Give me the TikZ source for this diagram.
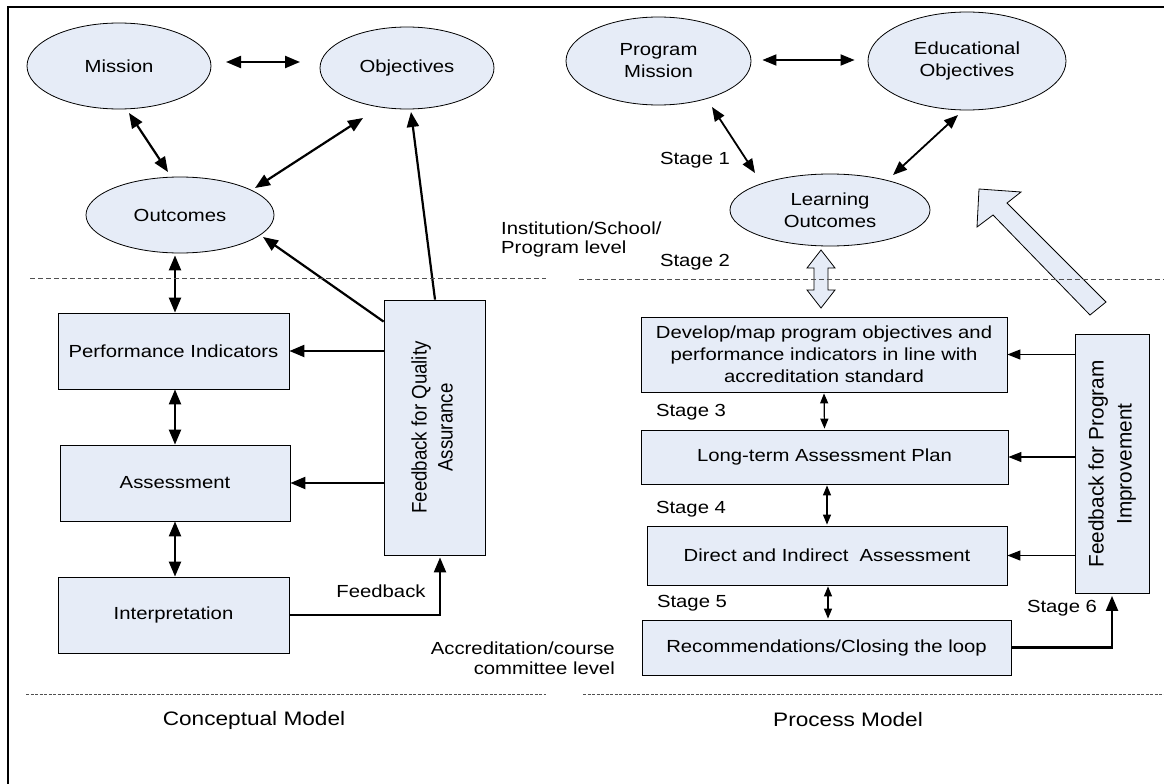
\documentclass[tikz,border=0pt]{standalone}
\usepackage{graphicx}
\usepackage{fontspec}
\setmainfont{Liberation Sans}[FakeStretch=1.16]
\newfontfamily\rotfontA{Liberation Sans}[FakeStretch=0.89]
\newfontfamily\rotfontB{Liberation Sans}[FakeStretch=0.99]
\usetikzlibrary{shapes.geometric,arrows.meta,calc}
\definecolor{boxfill}{RGB}{230,236,247}
\definecolor{dashcol}{RGB}{80,80,80}
\newcommand\nfont{\fontsize{17.5}{22}\selectfont}
\newcommand\tfont{\fontsize{19.5}{23}\selectfont}
\begin{document}
\begin{tikzpicture}[x=1pt,y=-1pt,
  ell/.style={ellipse, draw, line width=0.8pt, fill=boxfill, inner sep=0pt, align=center, font=\nfont},
  box/.style={rectangle, draw, line width=0.8pt, fill=boxfill, inner sep=0pt, align=center, font=\nfont},
  lbl/.style={inner sep=0pt, font=\nfont},
  bigdbl/.style={line width=2.2pt, {Triangle[length=15pt,width=12pt]}-{Triangle[length=15pt,width=12pt]}},
  bigone/.style={line width=2.2pt, -{Triangle[length=15pt,width=12pt]}},
  meddbl/.style={line width=1.8pt, {Triangle[length=14pt,width=11pt]}-{Triangle[length=14pt,width=11pt]}},
  thinone/.style={line width=1.2pt, -{Triangle[length=13pt,width=10pt]}},
  thindbl/.style={line width=1.2pt, {Triangle[length=10pt,width=8pt]}-{Triangle[length=10pt,width=8pt]}},
  dline/.style={dashcol, line width=0.8pt, dash pattern=on 5pt off 3pt},
  dlinefine/.style={dashcol, line width=0.7pt, dash pattern=on 3pt off 1.5pt},
  hollow/.style={draw, line width=0.8pt, fill=boxfill, line join=miter}
]
\useasboundingbox (0,0) rectangle (1164,784);
% frame
\draw[line width=2pt] (8,784) -- (8,7) -- (1164,7);

% ---------- Conceptual model ----------
\node[ell, minimum width=184pt, minimum height=86pt] (mis) at (119,66) {Mission};
\node[ell, minimum width=174pt, minimum height=82pt] (obj) at (407,68) {Objectives};
\node[ell, minimum width=188pt, minimum height=76pt] (outc) at (180,215) {Outcomes};
\node[box, minimum width=231pt, minimum height=76pt] (pi) at (173.5,351) {Performance Indicators};
\node[box, minimum width=230pt, minimum height=76pt] (asm) at (175,483) {Assessment};
\node[box, minimum width=231pt, minimum height=76pt] (intp) at (173.5,615) {Interpretation};
\node[box, minimum width=101pt, minimum height=255pt] (fqa) at (434.5,427.5)
  {\rotatebox{90}{\rotfontA\fontsize{21}{26}\selectfont\begin{tabular}{@{}c@{}}Feedback for Quality\\Assurance\end{tabular}}};

\draw[bigdbl] ($(mis)+(107,-4)$) -- ($(obj)+(-107,-6)$);
\draw[bigdbl] ($(mis)+(10,47)$) -- ($(outc)+(-12,-43)$);
\draw[bigdbl] ($(obj)+(-44,50)$) -- ($(outc)+(75,-27)$);
\draw[bigdbl] ($(outc.south)+(-5,2)$) -- ($(pi.north)+(1.5,0)$);
\draw[bigdbl] ($(pi.south)+(1.5,0)$) -- (asm.north);
\draw[bigdbl] (asm.south) -- ($(intp.north)+(1.5,0)$);
\draw[bigone] (fqa.west |- pi.east) -- (pi.east);
\draw[bigone] (fqa.west |- asm.east) -- (asm.east);
\draw[bigone] (intp.east) -| ($(fqa.south)+(5.5,2)$);
\draw[bigone] ($(fqa.north west)+(0,22)$) -- ($(outc)+(83,22)$);
\draw[bigone] ($(fqa.north)+(0.5,0)$) -- ($(obj)+(4,44)$);
\node[lbl] (fblbl) at (381,591) {Feedback};

\node[lbl, anchor=west, align=left, font=\fontsize{17.5}{19}\selectfont] (inst) at (501,239.5) {Institution/School/\\Program level};
\node[lbl, anchor=east, align=right, font=\fontsize{17.5}{20}\selectfont] (accr) at (615,658) {Accreditation/course\\committee level};

% ---------- Process model ----------
\node[ell, minimum width=185pt, minimum height=88pt] (pm) at (658.5,61) {Program\\Mission};
\node[ell, minimum width=198pt, minimum height=98pt] (eo) at (967,61) {Educational\\Objectives};
\node[ell, minimum width=200pt, minimum height=72pt] (lo) at (830,210) {Learning\\Outcomes};
\node[box, minimum width=366pt, minimum height=75pt] (dev) at (824,354.5) {Develop/map program objectives and\\performance indicators in line with\\accreditation standard};
\node[box, minimum width=367pt, minimum height=54pt] (ltap) at (824.5,457) {Long-term Assessment Plan};
\node[box, minimum width=360pt, minimum height=59pt] (dir) at (827,555.5) {Direct and Indirect\ \ Assessment};
\node[box, minimum width=369pt, minimum height=55pt] (rec) at (826.5,647.5) {Recommendations/Closing the loop};
\node[box, minimum width=74pt, minimum height=259pt] (fpi) at (1112,464)
  {\rotatebox{90}{\rotfontB\fontsize{21}{28}\selectfont\begin{tabular}{@{}c@{}}Feedback for Program\\Improvement\end{tabular}}};

\draw[meddbl] ($(pm.east)+(11,-1)$) -- ($(eo.west)+(-13,-1)$);
\draw[meddbl] ($(pm)+(53.5,46)$) -- ($(lo)+(-75,-37)$);
\draw[meddbl] ($(eo)+(-9,54)$) -- ($(lo)+(63,-35)$);
\draw[thindbl] ($(dev.south)+(0,1)$) -- ($(ltap.north)+(0,-1)$);
\draw[thindbl] ($(ltap.south)+(2.5,1)$) -- ($(dir.north)+(0,-1)$);
\draw[thindbl] ($(dir.south)+(1,1)$) -- ($(rec.north)+(1.5,-1)$);
\draw[thinone] (fpi.west |- dev.east) -- (dev.east);
\draw[thinone] (fpi.west |- ltap.east) -- (ltap.east);
\draw[thinone] (fpi.west |- dir.east) -- (dir.east);
\draw[bigone] (rec.east) -| ($(fpi.south)+(0,2)$);

% hollow double arrow (Stage 2)
\draw[hollow] (821,250) -- (835,268) -- (828,268) -- (828,290) -- (835,290) -- (821,308)
  -- (807,290) -- (814,290) -- (814,268) -- (807,268) -- cycle;
% big hollow arrow
\draw[hollow] (979,189) -- (1021,192) -- (1007,203) -- (1106,302) -- (1090,315) -- (993,215) -- (977,227) -- cycle;

\node[lbl] (s1) at (695,160) {Stage 1};
\node[lbl] (s2) at (695,262) {Stage 2};
\node[lbl] (s3) at (691,412) {Stage 3};
\node[lbl] (s4) at (691,509) {Stage 4};
\node[lbl] (s5) at (692,603) {Stage 5};
\node[lbl] (s6) at (1062,608) {Stage 6};

% dashed separators
\draw[dline] (30,278.5) -- (546,278.5);
\draw[dline] (579,279) -- (1164,279);
\draw[dlinefine] (26,694) -- (546,694);
\draw[dlinefine] (583,694) -- (1164,694);

\node[inner sep=0pt, font=\tfont] (cm) at (254,720) {Conceptual Model};
\node[inner sep=0pt, font=\tfont] (prm) at (848,720) {Process Model};
\end{tikzpicture}
\end{document}
